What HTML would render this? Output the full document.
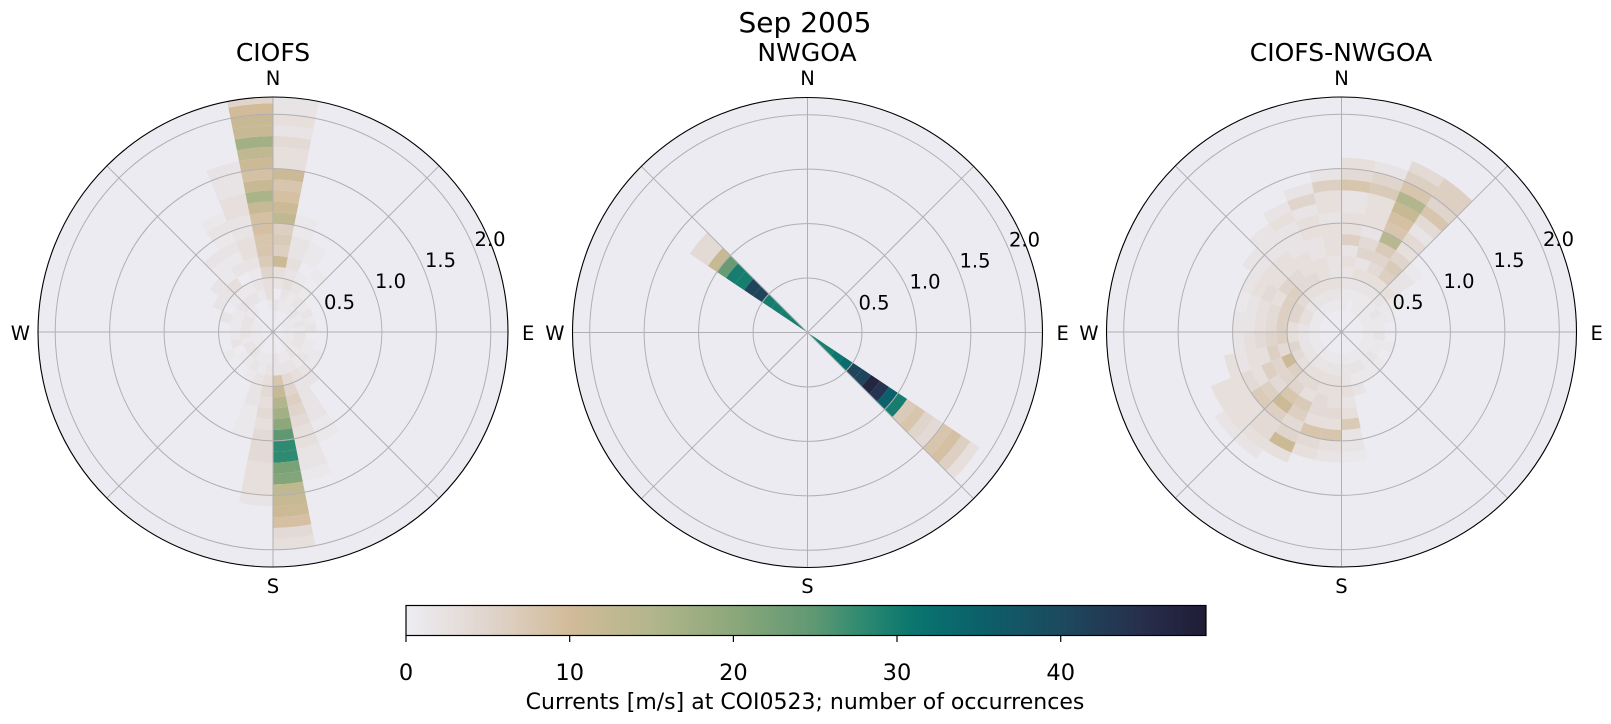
<!DOCTYPE html>
<html><head><meta charset="utf-8">
<style>
html,body{margin:0;padding:0;background:#fff;}
svg{display:block;}
text{font-family:"DejaVu Sans","Liberation Sans",sans-serif;fill:#000;}
</style></head>
<body>
<svg id="s" width="1611" height="724" viewBox="0 0 1611 724" xmlns="http://www.w3.org/2000/svg">
<defs>
<linearGradient id="cb" x1="0" x2="1" y1="0" y2="0">
<stop offset="0" stop-color="#eeedf3"/>
<stop offset="0.102" stop-color="#e0d5cd"/>
<stop offset="0.204" stop-color="#d2bb99"/>
<stop offset="0.306" stop-color="#b3b68c"/>
<stop offset="0.408" stop-color="#8ca87a"/>
<stop offset="0.51" stop-color="#5f9873"/>
<stop offset="0.571" stop-color="#2e8a70"/>
<stop offset="0.633" stop-color="#0a766e"/>
<stop offset="0.714" stop-color="#0b616b"/>
<stop offset="0.816" stop-color="#1c4a5f"/>
<stop offset="0.918" stop-color="#272f4c"/>
<stop offset="1" stop-color="#201c36"/>
</linearGradient>
</defs>
<text x="805" y="32" font-size="28" text-anchor="middle">Sep 2005</text>

<g id="p0"></g><g id="p1"></g><g id="p2"></g>

<text x="273" y="61" font-size="25" text-anchor="middle">CIOFS</text>
<text x="807" y="61" font-size="25" text-anchor="middle">NWGOA</text>
<text x="1341" y="61" font-size="25" text-anchor="middle">CIOFS-NWGOA</text>

<rect x="406" y="605.5" width="800" height="30" fill="url(#cb)" stroke="#000" stroke-width="1.2"/>
<g stroke="#000" stroke-width="1.2">
<line x1="406" y1="635.5" x2="406" y2="642"/>
<line x1="569.7" y1="635.5" x2="569.7" y2="642"/>
<line x1="733.4" y1="635.5" x2="733.4" y2="642"/>
<line x1="897" y1="635.5" x2="897" y2="642"/>
<line x1="1060.7" y1="635.5" x2="1060.7" y2="642"/>
</g>
<g font-size="22.5" text-anchor="middle">
<text x="406" y="680">0</text>
<text x="569.7" y="680">10</text>
<text x="733.4" y="680">20</text>
<text x="897" y="680">30</text>
<text x="1060.7" y="680">40</text>
</g>
<text x="805" y="709" font-size="22" text-anchor="middle">Currents [m/s] at COI0523; number of occurrences</text>
</svg>
<script>
(function(){
var R=235, U=108.9, DW=11.25;
var centers=[[273,332],[807.5,332.5],[1341.5,332]];
var stops=[[0,'#eeedf3'],[5,'#e0d5cd'],[10,'#d2bb99'],[15,'#b3b68c'],[20,'#8ca87a'],[25,'#5f9873'],[28,'#2e8a70'],[31,'#0a766e'],[35,'#0b616b'],[40,'#1c4a5f'],[45,'#272f4c'],[49,'#201c36']];
function hx(c){return [parseInt(c.substr(1,2),16),parseInt(c.substr(3,2),16),parseInt(c.substr(5,2),16)];}
function col(v){
  if(v>=49)return stops[stops.length-1][1];
  for(var i=0;i<stops.length-1;i++){
    if(v>=stops[i][0]&&v<=stops[i+1][0]){
      var t=(v-stops[i][0])/(stops[i+1][0]-stops[i][0]);
      var a=hx(stops[i][1]),b=hx(stops[i+1][1]);
      return 'rgb('+Math.round(a[0]+(b[0]-a[0])*t)+','+Math.round(a[1]+(b[1]-a[1])*t)+','+Math.round(a[2]+(b[2]-a[2])*t)+')';
    }
  }
  return stops[0][1];
}
function dec(ch){
  var c=ch.charCodeAt(0);
  if(c>=48&&c<=57)return c-48;
  if(c>=97&&c<=122)return c-97+10;
  return c-65+36;
}
function P(cx,cy,r,th){var a=th*Math.PI/180;return [cx+r*Math.sin(a),cy-r*Math.cos(a)];}
function sector(cx,cy,r0,r1,t0,t1){
  var a=P(cx,cy,r1,t0),b=P(cx,cy,r1,t1),c=P(cx,cy,r0,t1),d=P(cx,cy,r0,t0);
  var s='M'+a[0].toFixed(2)+' '+a[1].toFixed(2)+' A'+r1+' '+r1+' 0 0 1 '+b[0].toFixed(2)+' '+b[1].toFixed(2)+' L'+c[0].toFixed(2)+' '+c[1].toFixed(2);
  if(r0>0)s+=' A'+r0+' '+r0+' 0 0 0 '+d[0].toFixed(2)+' '+d[1].toFixed(2);
  return s+'Z';
}
var data=[
 {0:"012023b676db98b3342322",1:"0012323221100000000000",2:"0011210110",3:"0012101",4:"01210",5:"0112",6:"0121",7:"0112",8:"012",9:"0121",10:"01211",11:"011210",12:"0121220",13:"0012322221100",14:"0012456543322100",15:"11228cfhkpssmldcb94300",16:"0012343434443332",17:"0011222111",18:"00121",19:"01210",20:"0121",21:"01201",22:"0112",23:"01210",24:"0121",25:"01212",26:"012102",27:"0012122",28:"001213112",29:"000210212121",30:"0001212332233222",31:"00133578899cgc9bdhcca5"},
 {27:"uuuuuFFuuoc44",11:"uuuvxFFLIzu78548963"},
 {0:"0011223263322843",1:"0001232542333752",2:"001123457e89cf864",3:"00112367534248566",4:"0011232210",5:"0012110",6:"00111",7:"0011",8:"0012",9:"00111",10:"0011",11:"00121",12:"00111",13:"0012100",14:"00121200",15:"0012232372210",16:"001233343832",17:"001233443843",18:"00123437645b3",19:"00123458b64432",20:"00123654673332",21:"00124b5634333",22:"00125463323",23:"0012365432",24:"0012364322",25:"0013564321",26:"0013563432",27:"00124653322",28:"001234433222",29:"0012343322232",30:"00123332233252",31:"001232233323362"}
];
for(var p=0;p<3;p++){
  var g=document.getElementById('p'+p);
  var cx=centers[p][0],cy=centers[p][1];
  var h='';
  h+='<circle cx="'+cx+'" cy="'+cy+'" r="'+R+'" fill="#ecebf2"/>';
  var d=data[p];
  for(var k in d){
    var s=d[k];
    for(var i=0;i<s.length;i++){
      var v=dec(s[i]); if(v<=0)continue;
      var r0=i*0.1*U, r1=Math.min((i+1)*0.1*U,R);
      var t0=k*DW, t1=(+k+1)*DW;
      h+='<path d="'+sector(cx,cy,r0,r1,t0,t1)+'" fill="'+col(v)+'"/>';
    }
  }
  h+='<g fill="none" stroke="#b0b0b0" stroke-width="1">';
  [0.5,1,1.5,2].forEach(function(r){h+='<circle cx="'+cx+'" cy="'+cy+'" r="'+(r*U)+'"/>';});
  for(var a=0;a<360;a+=45){var e=P(cx,cy,R,a);h+='<line x1="'+cx+'" y1="'+cy+'" x2="'+e[0].toFixed(2)+'" y2="'+e[1].toFixed(2)+'"/>';}
  h+='</g>';
  h+='<circle cx="'+cx+'" cy="'+cy+'" r="'+R+'" fill="none" stroke="#000" stroke-width="1.1"/>';
  g.innerHTML=h;
}
})();
</script>
<svg width="1611" height="724" viewBox="0 0 1611 724" style="position:absolute;left:0;top:0;" xmlns="http://www.w3.org/2000/svg">
<g font-size="19.5" text-anchor="middle">
<text x="273" y="85">N</text><text x="273" y="593">S</text>
<text x="807.5" y="85">N</text><text x="807.5" y="593">S</text>
<text x="1341.5" y="85">N</text><text x="1341.5" y="593">S</text>
</g>
<g font-size="19.5">
<text x="30" y="340" text-anchor="end">W</text><text x="522" y="340">E</text>
<text x="564.5" y="340" text-anchor="end">W</text><text x="1056.5" y="340">E</text>
<text x="1098.5" y="340" text-anchor="end">W</text><text x="1590.5" y="340">E</text>
</g>
<g font-size="19.5">
<text x="324" y="309">0.5</text><text x="375" y="288">1.0</text><text x="425" y="267">1.5</text><text x="474.5" y="246">2.0</text>
<text x="858.5" y="309.5">0.5</text><text x="909.5" y="288.5">1.0</text><text x="959.5" y="267.5">1.5</text><text x="1009" y="246.5">2.0</text>
<text x="1392.5" y="309">0.5</text><text x="1443.5" y="288">1.0</text><text x="1493.5" y="267">1.5</text><text x="1543" y="246">2.0</text>
</g>
</svg>
</body></html>
